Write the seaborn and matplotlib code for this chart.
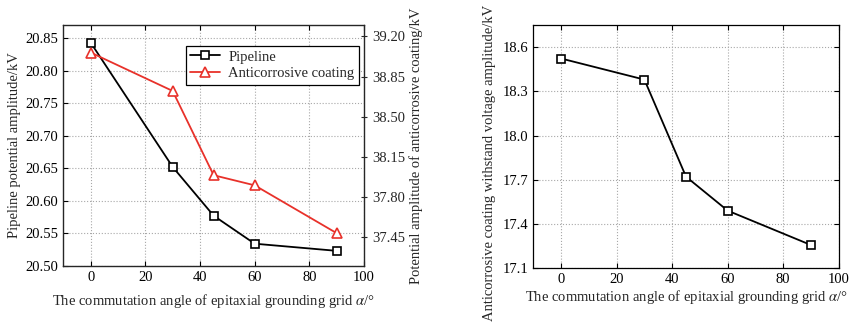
import numpy as np
import pandas as pd
import matplotlib
matplotlib.use('Agg')
import matplotlib.pyplot as plt
import seaborn as sns

# data
angle = [0, 30, 45, 60, 90]
pipeline_kv = [20.843, 20.652, 20.577, 20.534, 20.523]
coating_kv = [39.06, 38.725, 37.99, 37.902, 37.485]
withstand_kv = [18.523, 18.38, 17.722, 17.492, 17.259]

left_yticks = [20.50, 20.55, 20.60, 20.65, 20.70, 20.75, 20.80, 20.85]
right_yticks = [37.45, 37.80, 38.15, 38.50, 38.85, 39.20]
wv_yticks = [17.1, 17.4, 17.7, 18.0, 18.3, 18.6]
xticks = [0, 20, 40, 60, 80, 100]

sns.set_style('ticks')
plt.rcParams['font.family'] = ['Liberation Serif', 'DejaVu Serif']
plt.rcParams['mathtext.fontset'] = 'stix'
plt.rcParams['font.size'] = 10.5

red = '#e8312a'
xlabel = r'The commutation angle of epitaxial grounding grid $\alpha$/°'

df = pd.DataFrame({'angle': angle, 'pipeline': pipeline_kv,
                   'coating': coating_kv, 'withstand': withstand_kv})

fig = plt.figure(figsize=(8.52, 3.30), dpi=100)
ax1 = fig.add_axes([0.0743, 0.1945, 0.3529, 0.7297])
ax3 = fig.add_axes([0.626, 0.1864, 0.3584, 0.7378])


def style_axis(ax):
    ax.grid(True, linestyle=':', color='#a8a8a8', linewidth=0.8)
    ax.tick_params(direction='in', length=3.5, width=0.8, labelsize=10.5,
                   top=True, colors='black')
    for s in ax.spines.values():
        s.set_linewidth(0.9)
        s.set_color('black')


# left panel: pipeline potential + coating potential (twin axis)
sns.lineplot(data=df, x='angle', y='pipeline', ax=ax1, color='black',
             marker='s', markersize=5.5, markerfacecolor='white',
             markeredgecolor='black', markeredgewidth=1.2, linewidth=1.3,
             label='Pipeline', legend=False)
ax1.set_xlim(-10, 100)
ax1.set_ylim(20.50, 20.87)
ax1.set_xticks(xticks)
ax1.set_yticks(left_yticks)
ax1.set_yticklabels([f'{v:.2f}' for v in left_yticks])
ax1.set_xlabel(xlabel, fontsize=10.5, labelpad=6)
ax1.set_ylabel('Pipeline potential amplitude/kV', fontsize=10.5, labelpad=3)
style_axis(ax1)
ax1.tick_params(right=False)

ax2 = ax1.twinx()
sns.lineplot(data=df, x='angle', y='coating', ax=ax2, color=red,
             marker='^', markersize=7, markerfacecolor='white',
             markeredgecolor=red, markeredgewidth=1.2, linewidth=1.3,
             label='Anticorrosive coating', legend=False)
ax2.set_ylim(37.2, 39.3)
ax2.set_yticks(right_yticks)
ax2.set_yticklabels([f'{v:.2f}' for v in right_yticks])
ax2.set_ylabel('Potential amplitude of anticorrosive coating/kV', fontsize=10.5,
               labelpad=3)
ax2.tick_params(direction='inout', length=5, width=0.8, labelsize=10.5)
ax2.set_xlim(-10, 100)

h1, l1 = ax1.get_legend_handles_labels()
h2, l2 = ax2.get_legend_handles_labels()
leg = ax2.legend(h1 + h2, l1 + l2, loc='upper right',
                 bbox_to_anchor=(0.983, 0.913), borderaxespad=0,
                 fontsize=10.5, frameon=True,
                 fancybox=False, edgecolor='black', framealpha=1,
                 borderpad=0.3, handlelength=2.0, labelspacing=0.25,
                 handletextpad=0.6)
leg.get_frame().set_linewidth(0.9)

# right panel: withstand voltage
sns.lineplot(data=df, x='angle', y='withstand', ax=ax3, color='black',
             marker='s', markersize=5.5, markerfacecolor='white',
             markeredgecolor='black', markeredgewidth=1.2, linewidth=1.3,
             legend=False)
ax3.set_xlim(-10, 100)
ax3.set_ylim(17.1, 18.75)
ax3.set_xticks(xticks)
ax3.set_yticks(wv_yticks)
ax3.set_yticklabels([f'{v:.1f}' for v in wv_yticks])
ax3.set_xlabel(xlabel, fontsize=10.5, labelpad=1)
ax3.set_ylabel('Anticorrosive coating withstand voltage amplitude/kV',
               fontsize=10.5)
ax3.yaxis.set_label_coords(-0.122, 0.433)
style_axis(ax3)
ax3.tick_params(right=True)

fig.savefig('out.png', dpi=100)
